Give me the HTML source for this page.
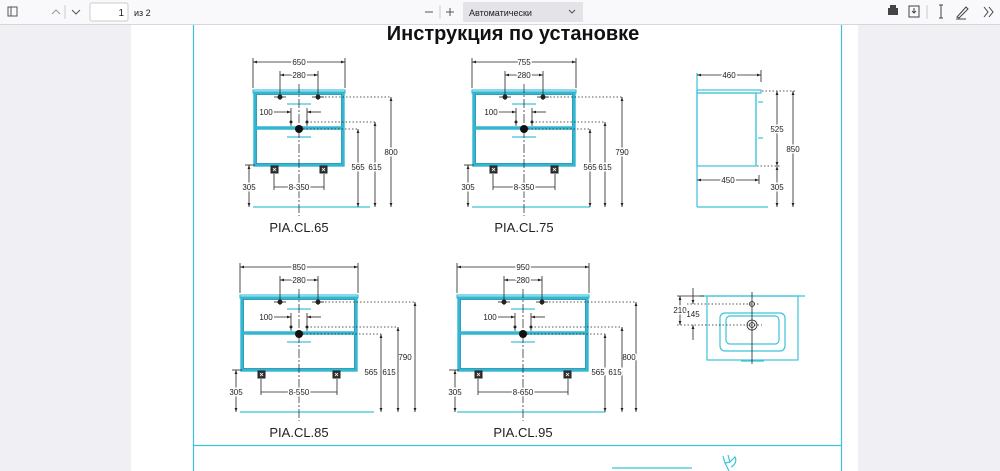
<!DOCTYPE html>
<html><head><meta charset="utf-8"><style>
html,body{margin:0;padding:0;width:1000px;height:471px;overflow:hidden;background:#f0f0f4;font-family:"Liberation Sans",sans-serif}
.tb{position:absolute;left:0;top:0;width:1000px;height:24px;background:#f9f9fb;border-bottom:1px solid #d7d7db}
.page{position:absolute;left:131px;top:25px;width:727px;height:446px;background:#fff}
svg{position:absolute;left:0;top:0}
.c{stroke:#3cc3da;fill:none;stroke-width:1.2}
.cb{stroke:#33b6d2;fill:none;stroke-width:3.4}
.ci{stroke:#1b8aa6;fill:none;stroke-width:.7}
.k{stroke:#222;stroke-width:.8;fill:none}
.d{stroke:#222;stroke-width:.8;stroke-dasharray:1.5 2;fill:none}
.cl{stroke:#333;stroke-width:.8;stroke-dasharray:9 2 2 2}
.t{font-size:8px;fill:#222;text-anchor:middle;stroke:#fff;stroke-width:3;paint-order:stroke}
.lb{font-size:13px;fill:#222;text-anchor:middle}
.ft{fill:#333;stroke:#222;stroke-width:1}
</style></head><body>
<div class="tb"></div>
<div class="page"></div>
<svg width="1000" height="471" viewBox="0 0 1000 471">
<defs>
<marker id="a" viewBox="0 0 10 10" refX="10" refY="5" markerWidth="5" markerHeight="5" orient="auto-start-reverse"><path d="M0,1.5 L10,5 L0,8.5z" fill="#222"/></marker>
<g id="foot"><rect x="0" y="0" width="7" height="7" class="ft"/><path d="M2,2 L5,5 M5,2 L2,5" stroke="#fff" stroke-width=".8"/></g>
</defs>
<!-- toolbar -->
<rect x="8" y="7" width="9" height="9" fill="none" stroke="#555" stroke-width="1"/><line x1="11" y1="7" x2="11" y2="16" stroke="#555"/>
<path d="M52,14 L56,10 L60,14" stroke="#999" fill="none"/><line x1="65" y1="5" x2="65" y2="19" stroke="#ccc"/>
<path d="M72,10 L76,14 L80,10" stroke="#555" fill="none"/>
<rect x="90" y="3" width="38" height="18" rx="2" fill="#fff" stroke="#ccc"/>
<text x="124" y="16" font-size="10" text-anchor="end" fill="#222">1</text>
<text x="134" y="16" font-size="9" fill="#222">из 2</text>
<line x1="425" y1="12" x2="433" y2="12" stroke="#555"/><line x1="440" y1="5" x2="440" y2="19" stroke="#ccc"/>
<line x1="446" y1="12" x2="454" y2="12" stroke="#555"/><line x1="450" y1="8" x2="450" y2="16" stroke="#555"/>
<rect x="463" y="2" width="120" height="20" fill="#e3e3e8"/>
<text x="469" y="16" font-size="9" fill="#222">Автоматически</text>
<path d="M569,10 L572,13 L575,10" stroke="#555" fill="none"/>
<rect x="888" y="8" width="10" height="7" fill="#444"/><rect x="890" y="5" width="6" height="3" fill="#444"/>
<rect x="909" y="6" width="10" height="11" fill="none" stroke="#444"/><path d="M914,8 L914,13 M912,11 L914,13 L916,11" stroke="#444" fill="none"/>
<line x1="927" y1="5" x2="927" y2="19" stroke="#ccc"/>
<path d="M939,5 L943,5 M941,5 L941,18 M939,18 L943,18" stroke="#444" fill="none"/>
<path d="M957,17 L966,7 L968,9 L959,18z" stroke="#444" fill="none"/><line x1="956" y1="19" x2="966" y2="19" stroke="#444"/>
<path d="M984,7 L988,12 L984,17 M989,7 L993,12 L989,17" stroke="#444" fill="none"/>
<!-- frame -->
<line x1="193.5" y1="25" x2="193.5" y2="471" class="c"/>
<line x1="841.5" y1="25" x2="841.5" y2="471" class="c"/>
<line x1="193" y1="445.5" x2="842" y2="445.5" class="c" stroke-width="1.5"/>
<line x1="612" y1="468" x2="692" y2="468" class="c" stroke-width="1.5"/>
<path d="M723,456 L725,463 L730,462 L728,455 M725,463 L729,471 M730,462 L735,457 C737,461 735,465 731,467" class="c" stroke-width="1.5"/>
<text x="513" y="40" font-size="20" font-weight="bold" text-anchor="middle" fill="#111">Инструкция по установке</text>

<!-- cab1 w=46 f=25 -->
<g transform="translate(299,90)">
<rect x="-46" y="0" width="92" height="3" class="c"/>
<rect x="-44" y="3" width="88" height="72" class="cb"/>
<rect x="-42.5" y="4.5" width="85" height="69" class="ci"/>
<line x1="-44" y1="38" x2="44" y2="38" class="cb"/>
<line x1="-12" y1="14" x2="12" y2="14" class="c" stroke-width="2"/><line x1="-12" y1="47" x2="12" y2="47" class="c" stroke-width="2"/>
<line x1="-46" y1="117" x2="71" y2="117" class="c" stroke-width="1.5"/>
<use href="#foot" x="-28" y="76"/><use href="#foot" x="21" y="76"/>
<line x1="0" y1="-6" x2="0" y2="126" class="cl"/>
<line x1="-46" y1="-32" x2="-46" y2="-2" class="k"/><line x1="46" y1="-32" x2="46" y2="-2" class="k"/>
<line x1="-46" y1="-28" x2="46" y2="-28" class="k" marker-start="url(#a)" marker-end="url(#a)"/><text x="0" y="-25" class="t">650</text>
<line x1="-19" y1="-19" x2="-19" y2="10" class="k"/><line x1="19" y1="-19" x2="19" y2="10" class="k"/>
<line x1="-19" y1="-15" x2="19" y2="-15" class="k" marker-start="url(#a)" marker-end="url(#a)"/><text x="0" y="-12" class="t">280</text>
<circle cx="-19" cy="7" r="2.5" fill="#222"/><circle cx="19" cy="7" r="2.5" fill="#222"/>
<line x1="-25" y1="7" x2="-13" y2="7" class="k"/><line x1="13" y1="7" x2="25" y2="7" class="k"/>
<line x1="-28" y1="22" x2="-8" y2="22" class="k" marker-end="url(#a)"/><line x1="22" y1="22" x2="8" y2="22" class="k" marker-end="url(#a)"/>
<text x="-33" y="25" class="t">100</text>
<line x1="-8" y1="18" x2="-8" y2="36" class="k"/><line x1="8" y1="18" x2="8" y2="36" class="k"/>
<circle cx="-8" cy="32" r="1.5" fill="#222"/><circle cx="8" cy="32" r="1.5" fill="#222"/>
<circle cx="0" cy="39" r="4" fill="#111"/>
<line x1="19" y1="7" x2="92" y2="7" class="d"/><line x1="8" y1="32" x2="76" y2="32" class="d"/><line x1="4" y1="39" x2="59" y2="39" class="d"/>
<line x1="92" y1="7" x2="92" y2="117" class="k" marker-start="url(#a)" marker-end="url(#a)"/><text x="92" y="65" class="t">800</text>
<line x1="76" y1="32" x2="76" y2="117" class="k" marker-start="url(#a)" marker-end="url(#a)"/><text x="76" y="80" class="t">615</text>
<line x1="59" y1="39" x2="59" y2="117" class="k" marker-start="url(#a)" marker-end="url(#a)"/><text x="59" y="80" class="t">565</text>
<line x1="-54" y1="75" x2="-44" y2="75" class="k"/>
<line x1="-50" y1="75" x2="-50" y2="117" class="k" marker-start="url(#a)" marker-end="url(#a)"/><text x="-50" y="100" class="t">305</text>
<line x1="-25" y1="84" x2="-25" y2="100" class="k"/><line x1="25" y1="84" x2="25" y2="100" class="k"/>
<line x1="-25" y1="97" x2="25" y2="97" class="k"/><text x="0" y="100" class="t">8-350</text>
<text x="0" y="142" class="lb">PIA.CL.65</text>
</g>

<!-- cab2 w=52 f=31 -->
<g transform="translate(524,90)">
<rect x="-52" y="0" width="104" height="3" class="c"/>
<rect x="-50" y="3" width="100" height="72" class="cb"/>
<rect x="-48.5" y="4.5" width="97" height="69" class="ci"/>
<line x1="-50" y1="38" x2="50" y2="38" class="cb"/>
<line x1="-12" y1="14" x2="12" y2="14" class="c" stroke-width="2"/><line x1="-12" y1="47" x2="12" y2="47" class="c" stroke-width="2"/>
<line x1="-52" y1="117" x2="66" y2="117" class="c" stroke-width="1.5"/>
<use href="#foot" x="-34" y="76"/><use href="#foot" x="27" y="76"/>
<line x1="0" y1="-6" x2="0" y2="126" class="cl"/>
<line x1="-52" y1="-32" x2="-52" y2="-2" class="k"/><line x1="52" y1="-32" x2="52" y2="-2" class="k"/>
<line x1="-52" y1="-28" x2="52" y2="-28" class="k" marker-start="url(#a)" marker-end="url(#a)"/><text x="0" y="-25" class="t">755</text>
<line x1="-19" y1="-19" x2="-19" y2="10" class="k"/><line x1="19" y1="-19" x2="19" y2="10" class="k"/>
<line x1="-19" y1="-15" x2="19" y2="-15" class="k" marker-start="url(#a)" marker-end="url(#a)"/><text x="0" y="-12" class="t">280</text>
<circle cx="-19" cy="7" r="2.5" fill="#222"/><circle cx="19" cy="7" r="2.5" fill="#222"/>
<line x1="-25" y1="7" x2="-13" y2="7" class="k"/><line x1="13" y1="7" x2="25" y2="7" class="k"/>
<line x1="-28" y1="22" x2="-8" y2="22" class="k" marker-end="url(#a)"/><line x1="22" y1="22" x2="8" y2="22" class="k" marker-end="url(#a)"/>
<text x="-33" y="25" class="t">100</text>
<line x1="-8" y1="18" x2="-8" y2="36" class="k"/><line x1="8" y1="18" x2="8" y2="36" class="k"/>
<circle cx="-8" cy="32" r="1.5" fill="#222"/><circle cx="8" cy="32" r="1.5" fill="#222"/>
<circle cx="0" cy="39" r="4" fill="#111"/>
<line x1="19" y1="7" x2="98" y2="7" class="d"/><line x1="8" y1="32" x2="81" y2="32" class="d"/><line x1="4" y1="39" x2="66" y2="39" class="d"/>
<line x1="98" y1="7" x2="98" y2="117" class="k" marker-start="url(#a)" marker-end="url(#a)"/><text x="98" y="65" class="t">790</text>
<line x1="81" y1="32" x2="81" y2="117" class="k" marker-start="url(#a)" marker-end="url(#a)"/><text x="81" y="80" class="t">615</text>
<line x1="66" y1="39" x2="66" y2="117" class="k" marker-start="url(#a)" marker-end="url(#a)"/><text x="66" y="80" class="t">565</text>
<line x1="-60" y1="75" x2="-50" y2="75" class="k"/>
<line x1="-56" y1="75" x2="-56" y2="117" class="k" marker-start="url(#a)" marker-end="url(#a)"/><text x="-56" y="100" class="t">305</text>
<line x1="-31" y1="84" x2="-31" y2="100" class="k"/><line x1="31" y1="84" x2="31" y2="100" class="k"/>
<line x1="-31" y1="97" x2="31" y2="97" class="k"/><text x="0" y="100" class="t">8-350</text>
<text x="0" y="142" class="lb">PIA.CL.75</text>
</g>

<!-- cab3 w=59 f=38 -->
<g transform="translate(299,295)">
<rect x="-59" y="0" width="118" height="3" class="c"/>
<rect x="-57" y="3" width="114" height="72" class="cb"/>
<rect x="-55.5" y="4.5" width="111" height="69" class="ci"/>
<line x1="-57" y1="38" x2="57" y2="38" class="cb"/>
<line x1="-12" y1="14" x2="12" y2="14" class="c" stroke-width="2"/><line x1="-12" y1="47" x2="12" y2="47" class="c" stroke-width="2"/>
<line x1="-59" y1="117" x2="75" y2="117" class="c" stroke-width="1.5"/>
<use href="#foot" x="-41" y="76"/><use href="#foot" x="34" y="76"/>
<line x1="0" y1="-6" x2="0" y2="126" class="cl"/>
<line x1="-59" y1="-32" x2="-59" y2="-2" class="k"/><line x1="59" y1="-32" x2="59" y2="-2" class="k"/>
<line x1="-59" y1="-28" x2="59" y2="-28" class="k" marker-start="url(#a)" marker-end="url(#a)"/><text x="0" y="-25" class="t">850</text>
<line x1="-19" y1="-19" x2="-19" y2="10" class="k"/><line x1="19" y1="-19" x2="19" y2="10" class="k"/>
<line x1="-19" y1="-15" x2="19" y2="-15" class="k" marker-start="url(#a)" marker-end="url(#a)"/><text x="0" y="-12" class="t">280</text>
<circle cx="-19" cy="7" r="2.5" fill="#222"/><circle cx="19" cy="7" r="2.5" fill="#222"/>
<line x1="-25" y1="7" x2="-13" y2="7" class="k"/><line x1="13" y1="7" x2="25" y2="7" class="k"/>
<line x1="-28" y1="22" x2="-8" y2="22" class="k" marker-end="url(#a)"/><line x1="22" y1="22" x2="8" y2="22" class="k" marker-end="url(#a)"/>
<text x="-33" y="25" class="t">100</text>
<line x1="-8" y1="18" x2="-8" y2="36" class="k"/><line x1="8" y1="18" x2="8" y2="36" class="k"/>
<circle cx="-8" cy="32" r="1.5" fill="#222"/><circle cx="8" cy="32" r="1.5" fill="#222"/>
<circle cx="0" cy="39" r="4" fill="#111"/>
<line x1="19" y1="7" x2="116" y2="7" class="d"/><line x1="8" y1="32" x2="99" y2="32" class="d"/><line x1="4" y1="39" x2="82" y2="39" class="d"/>
<line x1="116" y1="7" x2="116" y2="117" class="k" marker-start="url(#a)" marker-end="url(#a)"/><text x="106" y="65" class="t">790</text>
<line x1="99" y1="32" x2="99" y2="117" class="k" marker-start="url(#a)" marker-end="url(#a)"/><text x="90" y="80" class="t">615</text>
<line x1="82" y1="39" x2="82" y2="117" class="k" marker-start="url(#a)" marker-end="url(#a)"/><text x="72" y="80" class="t">565</text>
<line x1="-67" y1="75" x2="-57" y2="75" class="k"/>
<line x1="-63" y1="75" x2="-63" y2="117" class="k" marker-start="url(#a)" marker-end="url(#a)"/><text x="-63" y="100" class="t">305</text>
<line x1="-38" y1="84" x2="-38" y2="100" class="k"/><line x1="38" y1="84" x2="38" y2="100" class="k"/>
<line x1="-38" y1="97" x2="38" y2="97" class="k"/><text x="0" y="100" class="t">8-550</text>
<text x="0" y="142" class="lb">PIA.CL.85</text>
</g>

<!-- cab4 w=66 f=45 -->
<g transform="translate(523,295)">
<rect x="-66" y="0" width="132" height="3" class="c"/>
<rect x="-64" y="3" width="128" height="72" class="cb"/>
<rect x="-62.5" y="4.5" width="125" height="69" class="ci"/>
<line x1="-64" y1="38" x2="64" y2="38" class="cb"/>
<line x1="-12" y1="14" x2="12" y2="14" class="c" stroke-width="2"/><line x1="-12" y1="47" x2="12" y2="47" class="c" stroke-width="2"/>
<line x1="-66" y1="117" x2="82" y2="117" class="c" stroke-width="1.5"/>
<use href="#foot" x="-48" y="76"/><use href="#foot" x="41" y="76"/>
<line x1="0" y1="-6" x2="0" y2="126" class="cl"/>
<line x1="-66" y1="-32" x2="-66" y2="-2" class="k"/><line x1="66" y1="-32" x2="66" y2="-2" class="k"/>
<line x1="-66" y1="-28" x2="66" y2="-28" class="k" marker-start="url(#a)" marker-end="url(#a)"/><text x="0" y="-25" class="t">950</text>
<line x1="-19" y1="-19" x2="-19" y2="10" class="k"/><line x1="19" y1="-19" x2="19" y2="10" class="k"/>
<line x1="-19" y1="-15" x2="19" y2="-15" class="k" marker-start="url(#a)" marker-end="url(#a)"/><text x="0" y="-12" class="t">280</text>
<circle cx="-19" cy="7" r="2.5" fill="#222"/><circle cx="19" cy="7" r="2.5" fill="#222"/>
<line x1="-25" y1="7" x2="-13" y2="7" class="k"/><line x1="13" y1="7" x2="25" y2="7" class="k"/>
<line x1="-28" y1="22" x2="-8" y2="22" class="k" marker-end="url(#a)"/><line x1="22" y1="22" x2="8" y2="22" class="k" marker-end="url(#a)"/>
<text x="-33" y="25" class="t">100</text>
<line x1="-8" y1="18" x2="-8" y2="36" class="k"/><line x1="8" y1="18" x2="8" y2="36" class="k"/>
<circle cx="-8" cy="32" r="1.5" fill="#222"/><circle cx="8" cy="32" r="1.5" fill="#222"/>
<circle cx="0" cy="39" r="4" fill="#111"/>
<line x1="19" y1="7" x2="113" y2="7" class="d"/><line x1="8" y1="32" x2="99" y2="32" class="d"/><line x1="4" y1="39" x2="82" y2="39" class="d"/>
<line x1="113" y1="7" x2="113" y2="117" class="k" marker-start="url(#a)" marker-end="url(#a)"/><text x="106" y="65" class="t">800</text>
<line x1="99" y1="32" x2="99" y2="117" class="k" marker-start="url(#a)" marker-end="url(#a)"/><text x="92" y="80" class="t">615</text>
<line x1="82" y1="39" x2="82" y2="117" class="k" marker-start="url(#a)" marker-end="url(#a)"/><text x="75" y="80" class="t">565</text>
<line x1="-74" y1="75" x2="-64" y2="75" class="k"/>
<line x1="-68" y1="75" x2="-68" y2="117" class="k" marker-start="url(#a)" marker-end="url(#a)"/><text x="-68" y="100" class="t">305</text>
<line x1="-45" y1="84" x2="-45" y2="100" class="k"/><line x1="45" y1="84" x2="45" y2="100" class="k"/>
<line x1="-45" y1="97" x2="45" y2="97" class="k"/><text x="0" y="100" class="t">8-650</text>
<text x="0" y="142" class="lb">PIA.CL.95</text>
</g>

<!-- side view -->
<line x1="697" y1="73" x2="697" y2="207" class="c"/>
<rect x="697" y="90" width="64" height="3" class="c"/>
<rect x="697" y="93" width="59" height="73" class="c"/>
<line x1="756" y1="93" x2="756" y2="166" class="c"/>
<line x1="758" y1="102" x2="763" y2="102" class="c"/><line x1="758" y1="138" x2="763" y2="138" class="c"/>
<line x1="697" y1="207" x2="768" y2="207" class="c"/>
<line x1="761" y1="70" x2="761" y2="82" class="k"/>
<line x1="697" y1="75" x2="761" y2="75" class="k" marker-start="url(#a)" marker-end="url(#a)"/><text x="729" y="78" class="t">460</text>
<line x1="759" y1="175" x2="759" y2="184" class="k"/>
<line x1="697" y1="180" x2="759" y2="180" class="k" marker-start="url(#a)" marker-end="url(#a)"/><text x="728" y="183" class="t">450</text>
<line x1="762" y1="91" x2="797" y2="91" class="d"/><line x1="757" y1="166" x2="781" y2="166" class="d"/>
<line x1="777" y1="91" x2="777" y2="166" class="k" marker-start="url(#a)" marker-end="url(#a)"/><text x="777" y="132" class="t">525</text>
<line x1="777" y1="166" x2="777" y2="207" class="k" marker-start="url(#a)" marker-end="url(#a)"/><text x="777" y="190" class="t">305</text>
<line x1="793" y1="91" x2="793" y2="207" class="k" marker-start="url(#a)" marker-end="url(#a)"/><text x="793" y="152" class="t">850</text>

<!-- sink -->
<line x1="700" y1="296" x2="805" y2="296" class="c" stroke-width="1.5"/>
<rect x="707" y="296" width="91" height="64" class="c"/>
<rect x="720" y="313" width="65" height="38" rx="5" class="c"/>
<rect x="726" y="316" width="53" height="28" rx="4" class="c"/>
<line x1="741" y1="361" x2="764" y2="361" class="c" stroke-width="1.5"/>
<line x1="752" y1="292" x2="752" y2="364" class="k"/>
<circle cx="752" cy="304" r="2.5" class="k"/>
<circle cx="752" cy="325" r="5" class="k"/><circle cx="752" cy="325" r="2.5" class="k"/>
<line x1="687" y1="304" x2="760" y2="304" class="d"/><line x1="677" y1="325" x2="762" y2="325" class="d"/>
<line x1="677" y1="296" x2="704" y2="296" class="k"/>
<line x1="680" y1="296" x2="680" y2="325" class="k" marker-start="url(#a)" marker-end="url(#a)"/><text x="680" y="313" class="t">210</text>
<line x1="693" y1="288" x2="693" y2="304" class="k" marker-end="url(#a)"/><line x1="693" y1="340" x2="693" y2="325" class="k" marker-end="url(#a)"/>
<text x="693" y="317" class="t">145</text>
</svg>
</body></html>
